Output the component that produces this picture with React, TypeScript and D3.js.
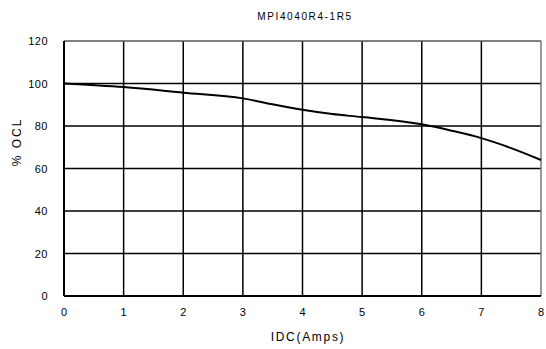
import React from "react";
import * as d3 from "d3";

const xs = [0, 1, 2, 3, 3.5, 4, 4.5, 5, 6, 6.5, 7, 7.5, 8];
const ys = [100, 98.3, 95.7, 93, 90.2, 87.6, 85.6, 84.2, 80.8, 77.8, 74.3, 69.6, 64];
const xTicks = [0, 1, 2, 3, 4, 5, 6, 7, 8];
const yTicks = [0, 20, 40, 60, 80, 100, 120];
const title = "MPI4040R4-1R5";
const xLabel = "IDC(Amps)";
const yLabel = "% OCL";

export default function App() {
  const W = 546, H = 349;
  const left = 64, right = 541, top = 41, bottom = 296;
  const x = d3.scaleLinear().domain([0, 8]).range([left, right]);
  const y = d3.scaleLinear().domain([0, 120]).range([bottom, top]);
  const line = d3.line<number>().x((_, i) => x(xs[i])).y((d) => y(d)).curve(d3.curveMonotoneX);
  const font = "'Liberation Sans', Arial, sans-serif";
  return (
    <svg width={W} height={H} style={{ position: "absolute", left: 0, top: 0 }}>
      <rect width={W} height={H} fill="#fff" />
      <text x={305} y={20} textAnchor="middle" fontFamily={font} fontSize={10} letterSpacing={1.6} fill="#000">{title}</text>
      {xTicks.slice(1, -1).map((t) => (
        <line key={"gx" + t} x1={x(t)} x2={x(t)} y1={top} y2={bottom} stroke="#000" strokeWidth={1.5} />
      ))}
      {yTicks.slice(1, -1).map((t) => (
        <line key={"gy" + t} x1={left} x2={right} y1={y(t)} y2={y(t)} stroke="#000" strokeWidth={1.5} />
      ))}
      <line x1={left} x2={right} y1={top} y2={top} stroke="#555" strokeWidth={1.5} />
      <line x1={right} x2={right} y1={top} y2={bottom} stroke="#777" strokeWidth={1.5} />
      <line x1={left} x2={left} y1={top} y2={bottom} stroke="#000" strokeWidth={2} />
      <line x1={left} x2={right} y1={bottom} y2={bottom} stroke="#000" strokeWidth={2} />
      <path d={line(ys) || ""} fill="none" stroke="#000" strokeWidth={2} />
      {yTicks.map((t) => (
        <text key={"ly" + t} x={48} y={y(t) + 4} textAnchor="end" fontFamily={font} fontSize={11} letterSpacing={0.5} fill="#000">{t}</text>
      ))}
      {xTicks.map((t) => (
        <text key={"lx" + t} x={x(t)} y={316} textAnchor="middle" fontFamily={font} fontSize={11} fill="#000">{t}</text>
      ))}
      <text x={308} y={341} textAnchor="middle" fontFamily={font} fontSize={12} letterSpacing={1.7} fill="#000">{xLabel}</text>
      <text transform={`translate(21,142) rotate(-90)`} textAnchor="middle" fontFamily={font} fontSize={12} letterSpacing={2} fill="#000">{yLabel}</text>
    </svg>
  );
}
